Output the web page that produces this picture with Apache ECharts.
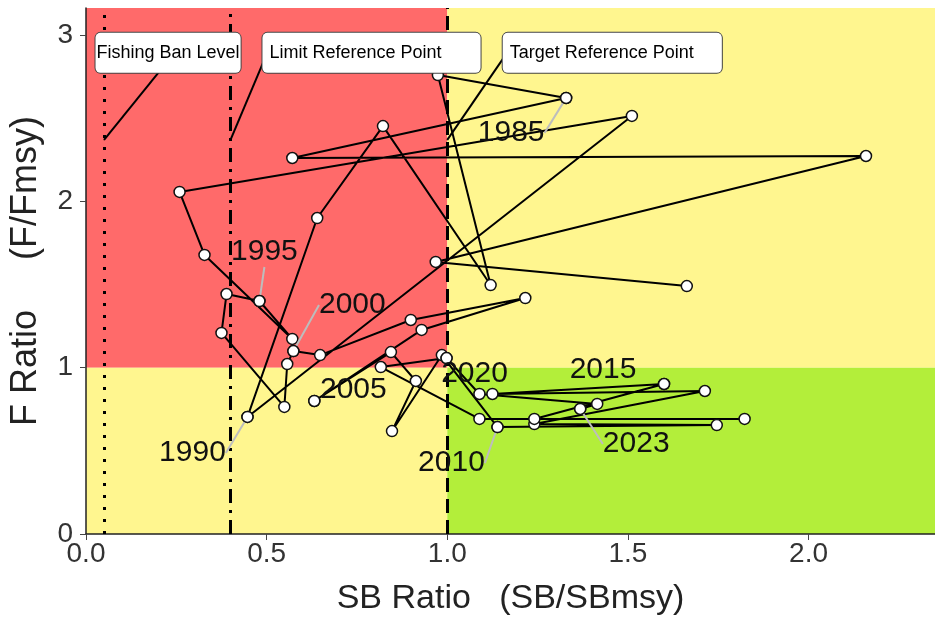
<!DOCTYPE html>
<html>
<head>
<meta charset="utf-8">
<script src="https://cdn.jsdelivr.net/npm/echarts@6/dist/echarts.min.js"></script>
<style>html,body{margin:0;padding:0;background:#fff}#c{width:935px;height:623px}</style>
</head>
<body>
<div id="c"></div>
<script>
// ---- data ----
const years = [1981,1982,1983,1984,1985,1986,1987,1988,1989,1990,
  1991,1992,1993,1994,1995,1996,1997,1998,1999,2000,
  2001,2002,2003,2004,2005,2006,2007,2008,2009,2010,
  2011,2012,2013,2014,2015,2016,2017,2018,2019,2020,
  2021,2022,2023];
const sbRatio = [1.663,0.968,2.159,0.571,1.329,0.974,1.120,0.822,0.640,0.447,
  1.511,0.259,0.328,0.571,0.480,0.389,0.375,0.549,0.557,0.574,
  0.648,0.899,1.216,0.929,0.632,0.844,0.913,0.847,0.985,1.139,
  1.746,1.241,1.713,1.125,1.600,1.241,1.823,1.089,0.816,0.998,
  1.089,1.415,1.368];
const fRatio = [1.491,1.636,2.273,2.261,2.622,2.760,1.497,2.453,1.900,0.704,
  2.514,2.057,1.678,1.173,1.401,1.443,1.209,0.764,1.022,1.100,
  1.076,1.287,1.419,1.227,0.800,1.094,0.920,0.619,1.076,0.643,
  0.655,0.661,0.860,0.842,0.902,0.692,0.692,0.692,1.004,1.058,
  0.842,0.782,0.752];
const labelYears = [1985,1990,1995,2000,2005,2010,2015,2020,2023];
const refNames = ['Fishing Ban Level','Limit Reference Point','Target Reference Point'];
const refSB = [0.05, 0.4, 1.0];
const refAnchorF = 2.37;
const xTicks = [0, 0.5, 1.0, 1.5, 2.0];
const yTicks = [0, 1, 2, 3];
const xMax = 2.35, yMax = 3.163;

// ---- styling (label offsets in px) ----
const yearOffsets = {1985:[-55,35],1990:[-55,36],1995:[5,-49],2000:[59,-46],2005:[39,-11],
  2010:[-46,36],2015:[-61,-14],2020:[28,16],2023:[56,35]};
const yearLeader = {1985:true,1990:true,1995:true,2000:true,2005:false,2010:true,2015:false,2020:false,2023:true};
const refOffsets = [[64,-87],[141,-87],[165,-87]];
const refPadding = [[11,1,11,1],[11,39,11,7],[11,28,11,7]];
const refLeaderEnd = [[55,-68],[35,-83],[57,-83]];
const refDash = [[3,9],[14,7,3,7],[14,7]];

const pts = years.map((y,i)=>[sbRatio[i], fRatio[i], y]);
const labelPts = labelYears.map(y=>{const i=years.indexOf(y);return {
  value:[sbRatio[i], fRatio[i], y],
  labelLine:{show: yearLeader[y]}
};});

const FONT = 'Liberation Sans, Arial, sans-serif';
const chart = echarts.init(document.getElementById('c'), null, {renderer:'canvas'});
chart.setOption({
  animation:false,
  grid:{left:82, right:0, top:8, bottom:89, containLabel:false},
  xAxis:{type:'value', min:0, max:xMax,
    name:'SB Ratio   (SB/SBmsy)', nameLocation:'middle', nameGap:48,
    nameTextStyle:{fontFamily:FONT, fontSize:34, color:'#222'},
    axisLine:{show:true, onZero:false, lineStyle:{color:'#222', width:1.5}},
    axisTick:{show:true, length:6, customValues:xTicks, lineStyle:{color:'#444'}},
    axisLabel:{customValues:xTicks, formatter:v=>v.toFixed(1), fontFamily:FONT, fontSize:28, color:'#333', margin:6},
    splitLine:{show:false}},
  yAxis:{type:'value', min:0, max:yMax,
    name:'F Ratio     (F/Fmsy)', nameLocation:'middle', nameGap:42,
    nameTextStyle:{fontFamily:FONT, fontSize:36, color:'#222'},
    axisLine:{show:true, onZero:false, lineStyle:{color:'#222', width:1.5}},
    axisTick:{show:true, length:6, customValues:yTicks, lineStyle:{color:'#444'}},
    axisLabel:{customValues:yTicks, formatter:v=>String(v), fontFamily:FONT, fontSize:28, color:'#333', margin:13},
    splitLine:{show:false}},
  series:[
    {type:'line', data:pts, symbol:'circle', symbolSize:11, z:5,
     lineStyle:{color:'#000', width:2},
     itemStyle:{color:'#fff', borderColor:'#111', borderWidth:1.5},
     markArea:{silent:true, z:0, data:[
       [{coord:[0,1], itemStyle:{color:'#FF6A6A'}},{coord:[1,yMax]}],
       [{coord:[1,1], itemStyle:{color:'#FFF68F'}},{coord:[xMax,yMax]}],
       [{coord:[0,0], itemStyle:{color:'#FFF68F'}},{coord:[1,1]}],
       [{coord:[1,0], itemStyle:{color:'#B3EE3A'}},{coord:[xMax,1]}]
     ]},
     markLine:{silent:true, symbol:'none', label:{show:false}, z:3,
       data: refSB.map((x,i)=>({xAxis:x, lineStyle:{color:'#000', width:3, type:refDash[i]}}))}
    },
    {type:'scatter', data:labelPts, symbol:'circle', symbolSize:11, z:6,
     itemStyle:{color:'#fff', borderColor:'#111', borderWidth:1.5, opacity:1},
     label:{show:true, position:'inside', formatter:p=>String(p.value[2]),
       fontFamily:FONT, fontSize:30, color:'#111'},
     labelLine:{show:true, lineStyle:{color:'#bdbdbd', width:2}},
     labelLayout:p=>{const y=labelYears[p.dataIndex];const o=yearOffsets[y];return {dx:o[0], dy:o[1]};}
    },
    {type:'scatter', symbol:'circle', symbolSize:1, z:8,
     data:refSB.map((x,i)=>({value:[x, refAnchorF, i], label:{padding:refPadding[i]}})),
     itemStyle:{color:'#000', opacity:1},
     label:{show:true, position:'inside', formatter:p=>refNames[p.value[2]],
       fontFamily:FONT, fontSize:18, color:'#000', backgroundColor:'#fff',
       borderColor:'#444', borderWidth:1, borderRadius:5},
     labelLine:{show:false},
     labelLayout:p=>{const o=refOffsets[p.dataIndex];return {dx:o[0], dy:o[1]};}
    }
  ]
});
// leader lines for reference-point boxes, anchored through the axis scales
const leaders = refSB.map((x,i)=>{
  const p = chart.convertToPixel({gridIndex:0},[x, refAnchorF]);
  const e = refLeaderEnd[i];
  return {type:'line', z:7, silent:true,
    shape:{x1:p[0], y1:p[1], x2:p[0]+e[0], y2:p[1]+e[1]},
    style:{stroke:'#000', lineWidth:2}};
});
chart.setOption({graphic:leaders});
</script>
</body>
</html>
